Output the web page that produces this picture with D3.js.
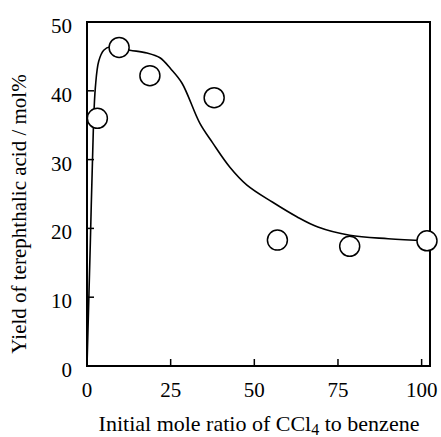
<!DOCTYPE html>
<html>
<head>
<meta charset="utf-8">
<script src="https://cdn.jsdelivr.net/npm/d3@7"></script>
<style>
  svg text, svg tspan { font-family: "Liberation Serif", serif !important; }
</style>
</head>
<body style="margin:0">
<script>
// measured points (circles)
const ratio = [3.1, 9.6, 18.8, 38.0, 56.9, 78.5, 101.6];
const yieldPct = [36.0, 46.3, 42.2, 39.0, 18.3, 17.4, 18.2];

// fitted curve
const curveX = [0, 1.0, 1.9, 2.5, 3.5, 5.0, 7.0, 12.8, 17.9, 21.8, 25.0, 28.4, 33.7, 37.6, 42.7, 47.8, 55.5, 62.7, 69.0, 78.5, 90.0, 101.6];
const curveY = [0, 18.0, 34.5, 40.5, 44.3, 45.9, 46.4, 45.9, 45.5, 44.8, 43.2, 41.1, 35.3, 32.4, 28.9, 26.3, 23.8, 21.7, 20.2, 19.0, 18.5, 18.2];

const xTicks = [0, 25, 50, 75, 100];
const yTicks = [0, 10, 20, 30, 40, 50];

// Set the dimensions and margins of the graph
const W = 441, H = 437;
const margin = { top: 22, right: 11, bottom: 71, left: 87 },
    width = W - margin.left - margin.right,
    height = H - margin.top - margin.bottom;

const svg = d3.select("body")
    .append("svg")
    .attr("width", W)
    .attr("height", H)
    .append("g")
    .attr("transform", "translate(" + margin.left + "," + margin.top + ")");

const x = d3.scaleLinear().domain([0, 102.5]).range([0, width]);
const y = d3.scaleLinear().domain([0, 50]).range([height, 0]);

// all the labels go on top of the marks later
const labels = [];

// curve
const line = d3.line()
    .x(i => x(curveX[i]))
    .y(i => y(curveY[i]))
    .curve(d3.curveCatmullRom.alpha(0.5));
svg.append("path")
    .datum(d3.range(curveX.length))
    .attr("fill", "none")
    .attr("stroke", "#000")
    .attr("stroke-width", 1.6)
    .attr("d", line);

// frame
svg.append("rect")
    .attr("width", width)
    .attr("height", height)
    .attr("fill", "none")
    .attr("stroke", "#000")
    .attr("stroke-width", 2);

// inward ticks
svg.selectAll(".xt")
    .data(xTicks)
    .join("line")
    .attr("x1", d => x(d)).attr("x2", d => x(d))
    .attr("y1", height).attr("y2", height - 7)
    .attr("stroke", "#000").attr("stroke-width", 1.5);
svg.selectAll(".yt")
    .data(yTicks)
    .join("line")
    .attr("x1", 0).attr("x2", 7)
    .attr("y1", d => y(d)).attr("y2", d => y(d))
    .attr("stroke", "#000").attr("stroke-width", 1.5);

// data points
svg.selectAll(".pt")
    .data(d3.range(ratio.length))
    .join("circle")
    .attr("cx", i => x(ratio[i]))
    .attr("cy", i => y(yieldPct[i]))
    .attr("r", 10)
    .attr("fill", "#fff")
    .attr("stroke", "#000")
    .attr("stroke-width", 1.5);

// tick labels
svg.selectAll(".xl")
    .data(xTicks)
    .join("text")
    .attr("x", d => x(d))
    .attr("y", height + 31)
    .attr("text-anchor", "middle")
    .style("font-family", "Liberation Serif, serif")
    .style("font-size", "21px")
    .text(d => d);
svg.selectAll(".yl")
    .data(yTicks)
    .join("text")
    .attr("x", -15)
    .attr("y", d => y(d) + 11)
    .attr("text-anchor", "end")
    .style("font-family", "Liberation Serif, serif")
    .style("font-size", "21px")
    .text(d => d);

// axis titles
const xt = svg.append("text")
    .attr("x", width / 2 + 0.5)
    .attr("y", height + 65)
    .attr("text-anchor", "middle")
    .style("font-family", "Liberation Serif, serif")
    .style("font-size", "22px");
xt.append("tspan").text("Initial mole ratio of CCl");
xt.append("tspan").attr("dy", 4).style("font-size", "16px").text("4");
xt.append("tspan").attr("dy", -4).text(" to benzene");

svg.append("text")
    .attr("transform", "translate(" + (-61) + "," + 192 + ") rotate(-90)")
    .attr("text-anchor", "middle")
    .style("font-family", "Liberation Serif, serif")
    .style("font-size", "21px")
    .text("Yield of terephthalic acid / mol%");
</script>
</body>
</html>
